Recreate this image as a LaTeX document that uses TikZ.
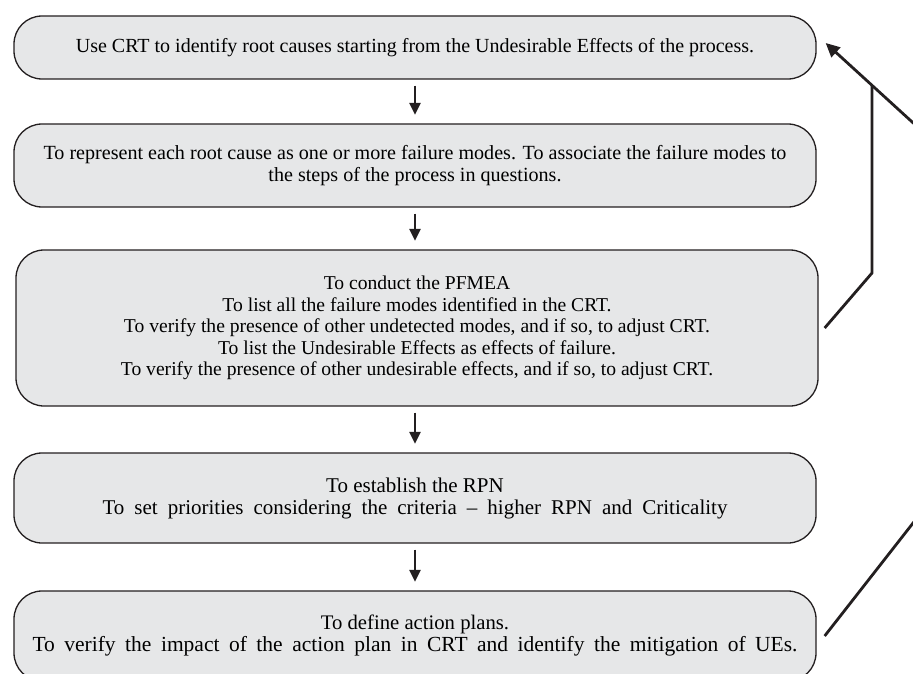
\documentclass[tikz,border=0pt]{standalone}
\usepackage{fontspec}
\setmainfont{Liberation Serif}
\usetikzlibrary{arrows.meta,calc}
\definecolor{boxfill}{HTML}{E6E7E8}
\definecolor{ink}{HTML}{231F20}
\begin{document}
\begin{tikzpicture}[x=1pt,y=-1pt,
  stepbox/.style={draw=ink, line width=1.3pt, fill=boxfill, rounded corners=28pt,
    minimum width=802pt, align=center, inner sep=0pt,
    font=\fontsize{19.6}{21.5}\selectfont},
  flow/.style={draw=ink, line width=2.8pt, -{Triangle[width=11pt,length=12pt]},
    shorten <=6pt, shorten >=8.5pt},
  link/.style={draw=ink, line width=2.8pt}
]
\useasboundingbox (0,0) rectangle (913,674);
\clip (0,0) rectangle (913,674);

\node[stepbox, minimum height=63pt, font=\fontsize{20}{21.5}\selectfont] (b1) at (415,47.5)
  {Use CRT to identify root causes starting from the Undesirable Effects of the process.};
\node[stepbox, minimum height=83pt, font=\fontsize{20.1}{21.5}\selectfont] (b2) at (415,165.5)
  {To represent each root cause as one or more failure modes. To associate the failure modes to\\
   the steps of the process in questions.};
\node[stepbox, minimum height=156pt] (b3) at (417,328)
  {To conduct the PFMEA\\
   To list all the failure modes identified in the CRT.\\
   To verify the presence of other undetected modes, and if so, to adjust CRT.\\
   To list the Undesirable Effects as effects of failure.\\
   To verify the presence of other undesirable effects, and if so, to adjust CRT.};
\node[stepbox, minimum height=90pt, font=\fontsize{21}{22}\selectfont] (b4) at (415,498)
  {To establish the RPN\\
   \makebox[625pt][s]{To set priorities considering the criteria -- higher RPN and Criticality}};
\node[stepbox, minimum height=90pt, font=\fontsize{20.7}{22}\selectfont] (b5) at (415,636)
  {To define action plans.\\
   {\fontsize{21.5}{22}\selectfont\makebox[765pt][s]{To verify the impact of the action plan in CRT and identify the mitigation of UEs.}}};

\draw[flow] (b1.south) -- (b1.south |- b2.north);
\draw[flow] (b2.south) -- (b2.south |- b3.north);
\draw[flow] (b2.south |- b3.south) -- (b2.south |- b4.north);
\draw[flow] (b4.south) -- (b4.south |- b5.north);

\coordinate (tipA) at ($(b1.east)+(9,-4.5)$);
\coordinate (farA) at (960,165.7);
\coordinate (joinA) at (872,85.7);
\coordinate (kneeA) at (872,273);
\coordinate (endB) at ($(b3.east)+(6,0)$);
\coordinate (endC) at ($(b5.east)+(8,0)$);
\coordinate (farC) at (960,463);

\draw[link, -{Triangle[width=13pt,length=14pt]}] (farA) -- (tipA);
\draw[link] (endB) -- (kneeA) -- (joinA);
\draw[link] (endC) -- (farC);
\end{tikzpicture}
\end{document}
